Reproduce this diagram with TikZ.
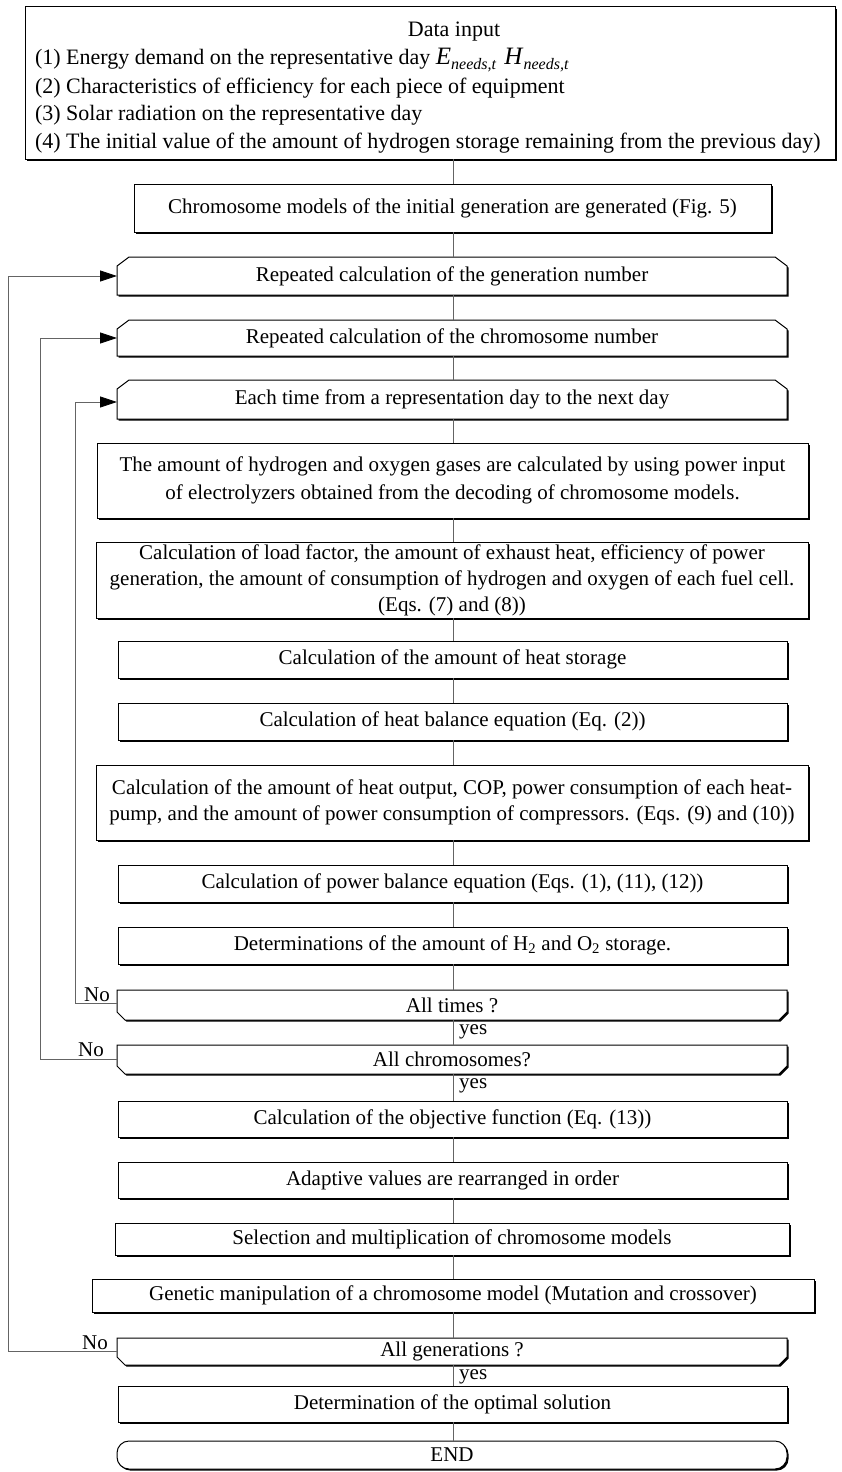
\documentclass[tikz,border=0pt]{standalone}
\usepackage{fontspec}
\setmainfont{Liberation Serif}
\usetikzlibrary{arrows.meta,shadows}
\pgfdeclarelayer{bg}
\pgfsetlayers{bg,main}
\definecolor{conncol}{RGB}{100,100,100}
\newcommand{\ChamTop}[1]{%
  \begin{pgfonlayer}{bg}
    \fill[black,transform canvas={shift={(1.6pt,-1.6pt)}}]
      ([xshift=12pt]#1.north west) -- ([xshift=-12pt]#1.north east) -- ([yshift=-9pt]#1.north east) -- (#1.south east) -- (#1.south west) -- ([yshift=-9pt]#1.north west) -- cycle;
    \draw[shapeline,fill=white]
      ([xshift=12pt]#1.north west) -- ([xshift=-12pt]#1.north east) -- ([yshift=-9pt]#1.north east) -- (#1.south east) -- (#1.south west) -- ([yshift=-9pt]#1.north west) -- cycle;
  \end{pgfonlayer}}
\newcommand{\ChamBot}[1]{%
  \begin{pgfonlayer}{bg}
    \fill[black,transform canvas={shift={(1.6pt,-1.6pt)}}]
      (#1.north west) -- (#1.north east) -- ([yshift=8pt]#1.south east) -- ([xshift=-8pt]#1.south east) -- ([xshift=8pt]#1.south west) -- ([yshift=8pt]#1.south west) -- cycle;
    \draw[shapeline,fill=white]
      (#1.north west) -- (#1.north east) -- ([yshift=8pt]#1.south east) -- ([xshift=-8pt]#1.south east) -- ([xshift=8pt]#1.south west) -- ([yshift=8pt]#1.south west) -- cycle;
  \end{pgfonlayer}}
\newcommand{\Needs}[1]{{\fontsize{25}{25}\selectfont\textit{#1}}\raisebox{-5pt}{\fontsize{16}{16}\selectfont\textit{needs,t}}}
\tikzset{
  base/.style={inner sep=0pt, outer sep=0pt, align=center, font=\fontsize{21}{27}\selectfont},
  box/.style={base, draw=black, line width=1pt, fill=white,
    drop shadow={shadow xshift=1.6pt, shadow yshift=-1.6pt, fill=black, opacity=1}},
  plain/.style={base},
  intext/.style={base, font=\fontsize{22}{27}\selectfont},
  shapeline/.style={draw=black, line width=1pt},
  conn/.style={draw=conncol, line width=0.8pt},
  loopline/.style={conn, -{Triangle[length=17pt,width=11pt,color=black]}},
  lbl/.style={inner sep=1pt, font=\fontsize{21}{21}\selectfont},
}
\begin{document}
\begin{tikzpicture}[x=1pt,y=-1pt]
\useasboundingbox (0,0) rectangle (842,1472);
\coordinate (axis) at (453,0);
\coordinate (loopA) at (8,0);
\coordinate (loopB) at (40,0);
\coordinate (loopC) at (75,0);

% data input
\node[box, minimum width=810pt, minimum height=152pt] (input) at (430,83) {};
\node[intext] (intitle) at (454,32) {Data input};
\node[intext, anchor=west] (in1) at (35,60) {(1) Energy demand on the representative day\ \Needs{E}\hspace{8pt}\Needs{H}};
\node[intext, anchor=west] (in2) at (35,88) {(2) Characteristics of efficiency for each piece of equipment};
\node[intext, anchor=west] (in3) at (35,115) {(3) Solar radiation on the representative day};
\node[intext, anchor=west] (in4) at (35,143) {(4) The initial value of the amount of hydrogen storage remaining from the previous day)};

\node[box, minimum width=637pt, minimum height=48pt] (init) at (452.5,208) {Chromosome models of the initial generation are generated (Fig. 5)};

\node[plain, minimum width=670pt, minimum height=38pt] (gen) at (452,276) {Repeated calculation of the generation number};
\ChamTop{gen}
\node[plain, minimum width=670pt, minimum height=36pt] (chrom) at (452,338) {Repeated calculation of the chromosome number};
\ChamTop{chrom}
\node[plain, minimum width=670pt, minimum height=39pt] (time) at (452,399.5) {Each time from a representation day to the next day};
\ChamTop{time}

\node[box, minimum width=711pt, minimum height=75pt, font=\fontsize{21}{28}\selectfont] (hyd) at (452.5,480.5) {The amount of hydrogen and oxygen gases are calculated by using power input\\of electrolyzers obtained from the decoding of chromosome models.};
\node[box, minimum width=712pt, minimum height=76pt, font=\fontsize{21}{26}\selectfont] (load) at (452,580) {Calculation of load factor, the amount of exhaust heat, efficiency of power\\generation, the amount of consumption of hydrogen and oxygen of each fuel cell.\\(Eqs. (7) and (8))};
\node[box, minimum width=669pt, minimum height=37pt] (hstore) at (452.5,659.5) {Calculation of the amount of heat storage};
\node[box, minimum width=669pt, minimum height=37pt] (hbal) at (452.5,721.5) {Calculation of heat balance equation (Eq. (2))};
\node[box, minimum width=712pt, minimum height=75pt, font=\fontsize{21}{26}\selectfont] (hout) at (452,802.5) {Calculation of the amount of heat output, COP, power consumption of each heat-\\pump, and the amount of power consumption of compressors. (Eqs. (9) and (10))};
\node[box, minimum width=669pt, minimum height=37pt] (pbal) at (452.5,883.5) {Calculation of power balance equation (Eqs. (1), (11), (12))};
\node[box, minimum width=669pt, minimum height=37pt] (det) at (452.5,945.5) {Determinations of the amount of H\textsubscript{2} and O\textsubscript{2} storage.};

\node[plain, minimum width=670pt, minimum height=30pt] (alltimes) at (452,1005) {All times ?};
\ChamBot{alltimes}
\node[plain, minimum width=670pt, minimum height=29pt] (allchrom) at (452,1059.5) {All chromosomes?};
\ChamBot{allchrom}

\node[box, minimum width=669pt, minimum height=36pt] (obj) at (452.5,1119) {Calculation of the objective function (Eq. (13))};
\node[box, minimum width=669pt, minimum height=36pt] (adapt) at (452.5,1180) {Adaptive values are rearranged in order};
\node[box, minimum width=674pt, minimum height=32pt] (sel) at (452,1239) {Selection and multiplication of chromosome models};
\node[box, minimum width=722pt, minimum height=33pt] (manip) at (453,1295.5) {Genetic manipulation of a chromosome model (Mutation and crossover)};

\node[plain, minimum width=670pt, minimum height=27pt] (allgen) at (452,1351.5) {All generations ?};
\ChamBot{allgen}

\node[box, minimum width=669pt, minimum height=36pt] (opt) at (452.5,1404) {Determination of the optimal solution};
\node[box, rounded corners=12pt, minimum width=670pt, minimum height=28pt] (finish) at (452,1455) {END};

% main connectors
\foreach \a/\b in {input/init, init/gen, gen/chrom, chrom/time, time/hyd, hyd/load, load/hstore, hstore/hbal, hbal/hout, hout/pbal, pbal/det, det/alltimes, alltimes/allchrom, allchrom/obj, obj/adapt, adapt/sel, sel/manip, manip/allgen, allgen/opt, opt/finish}
  \draw[conn] (\a.south -| axis) -- (\b.north -| axis);

% loops
\draw[loopline] ([yshift=2pt]alltimes.west) -- ([yshift=2pt]alltimes.west -| loopC) -- ([yshift=-2.5pt]time.west -| loopC) -- ([yshift=-2.5pt]time.west);
\draw[loopline] (allchrom.west) -- (allchrom.west -| loopB) -- (chrom.west -| loopB) -- (chrom.west);
\draw[loopline] (allgen.west) -- (allgen.west -| loopA) -- (gen.west -| loopA) -- (gen.west);

% labels
\node[lbl, anchor=south east] (no1) at ([xshift=-6pt,yshift=2pt]alltimes.west) {No};
\node[lbl, anchor=south east] (no2) at ([xshift=-12pt,yshift=2pt]allchrom.west) {No};
\node[lbl, anchor=south east] (no3) at ([xshift=-8pt,yshift=1pt]allgen.west) {No};
\node[lbl, anchor=west] (yes1) at (458,1032) {yes};
\node[lbl, anchor=west] (yes2) at (458,1086) {yes};
\node[lbl, anchor=west] (yes3) at (458,1377) {yes};
\end{tikzpicture}
\end{document}
